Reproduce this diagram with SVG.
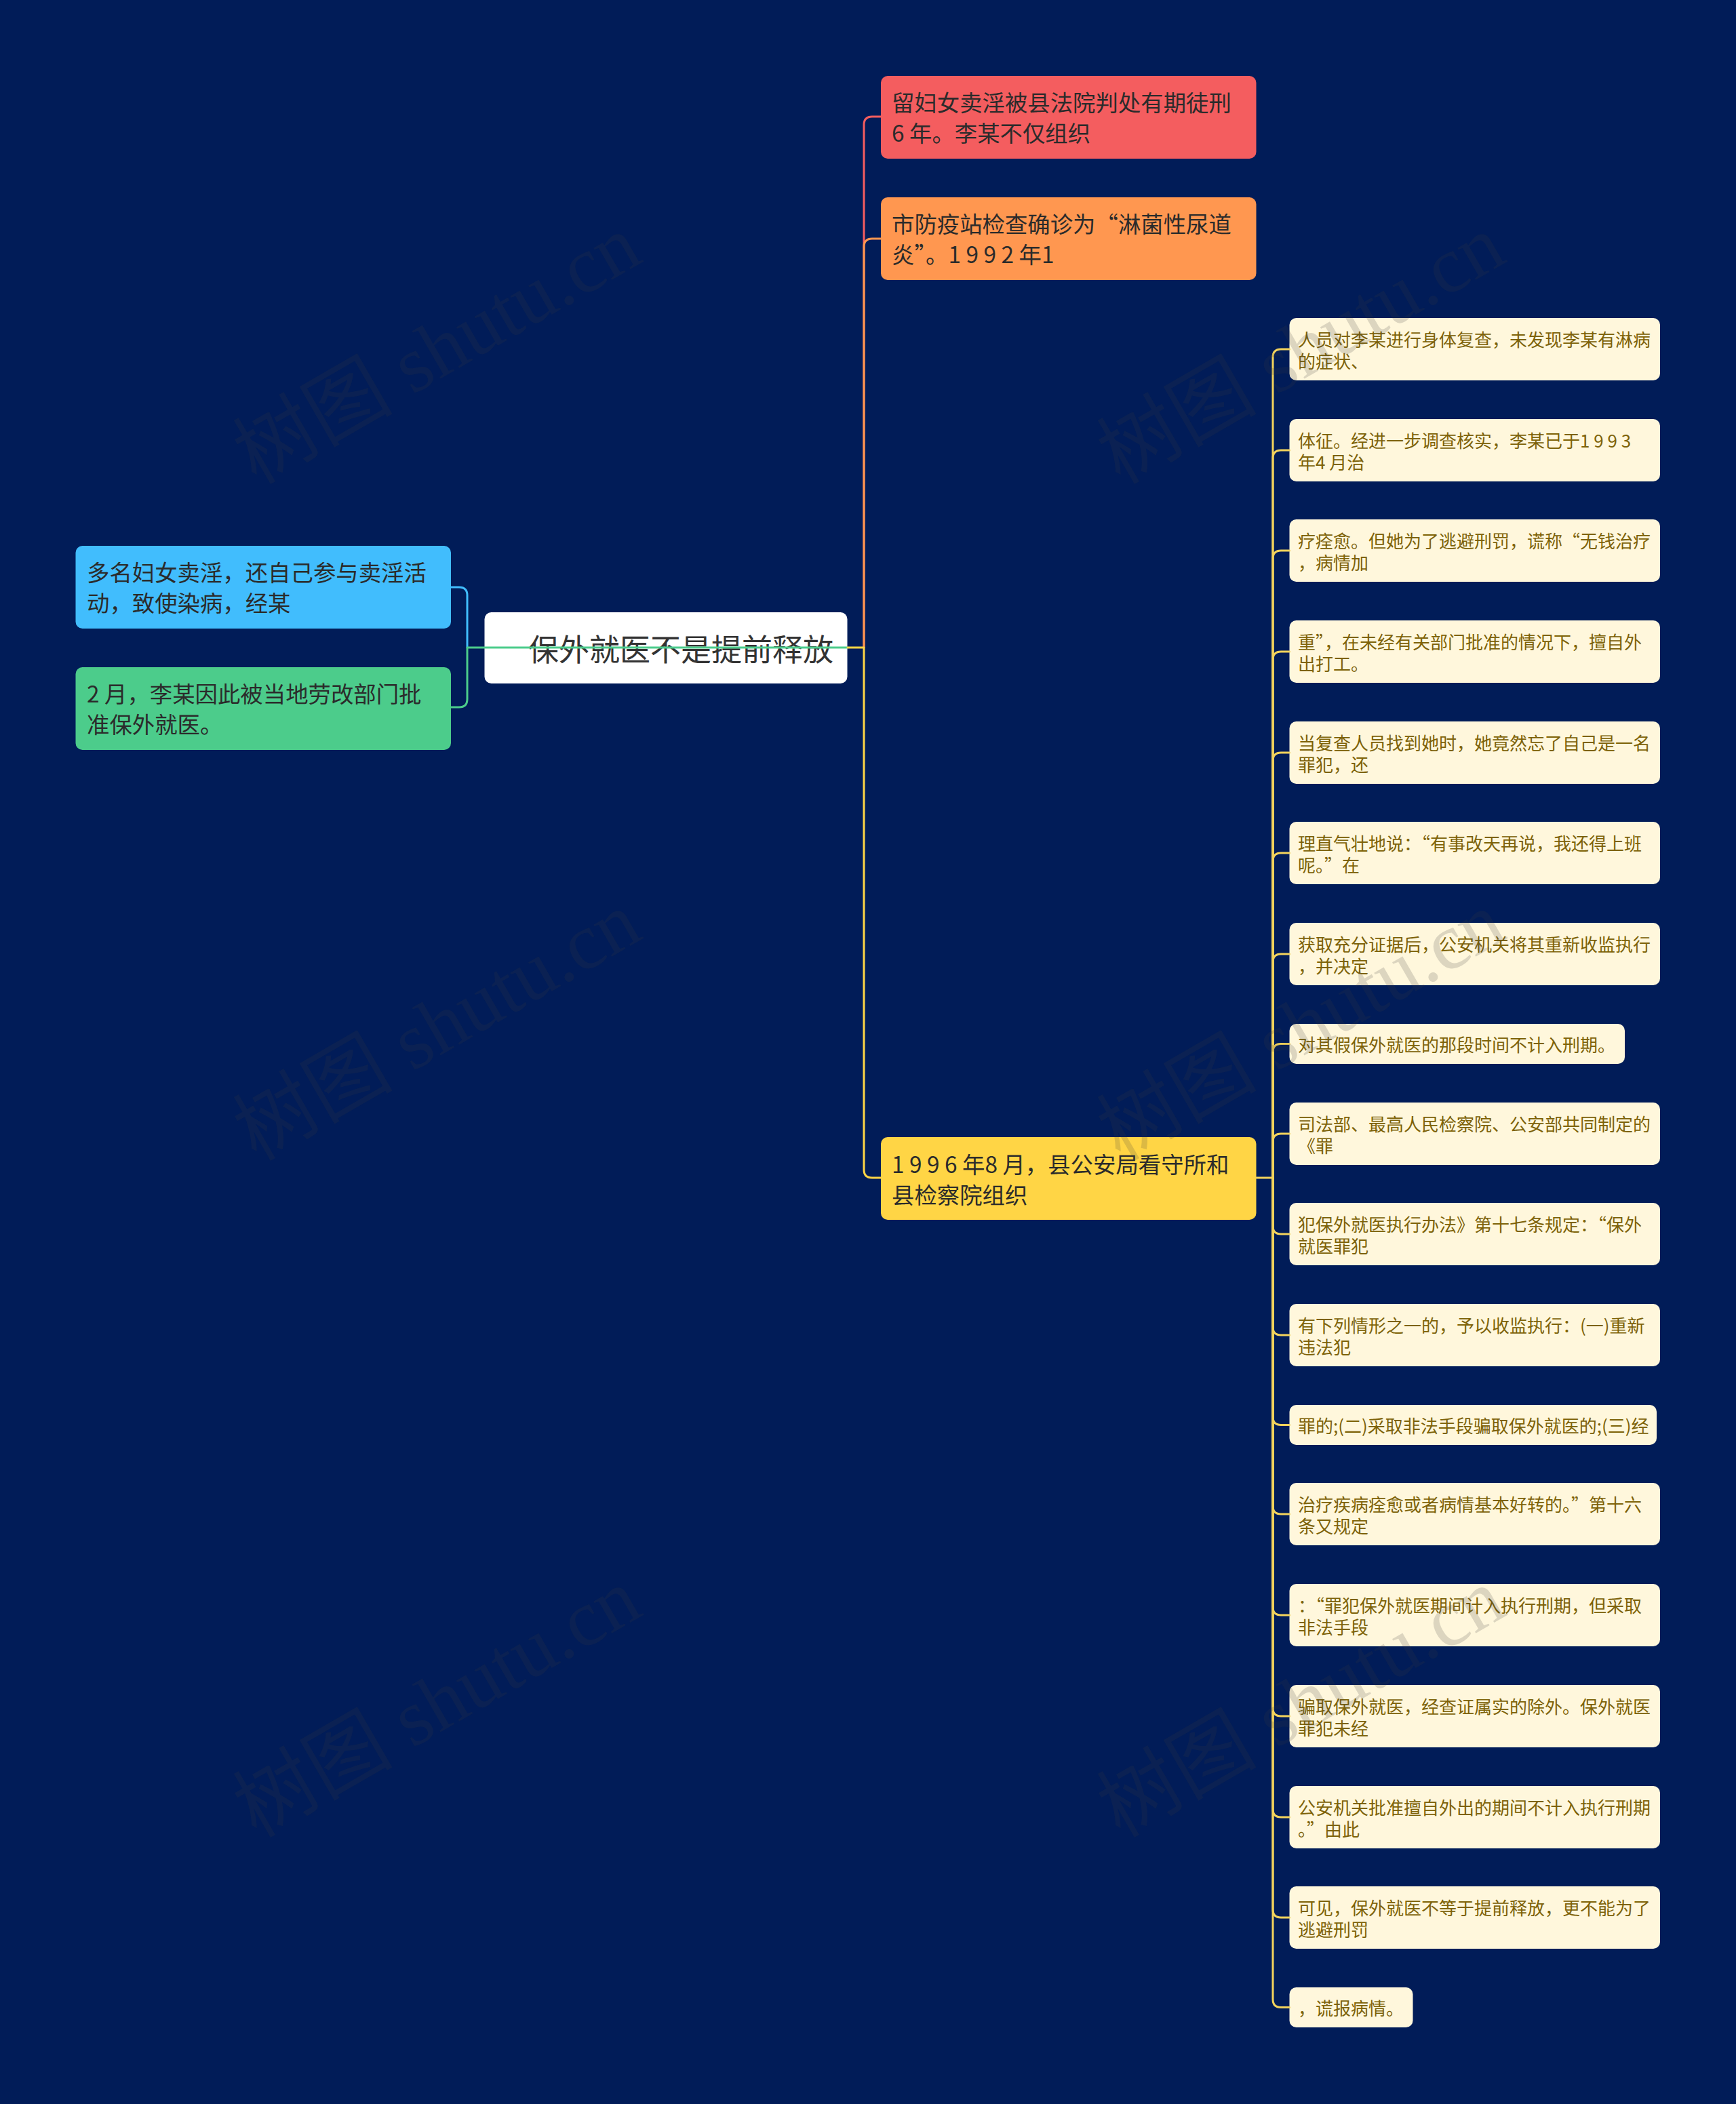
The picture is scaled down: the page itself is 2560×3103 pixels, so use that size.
<svg xmlns="http://www.w3.org/2000/svg" width="2560" height="3103" viewBox="0 0 2560 3103">
<style>
.bg{fill:#011c58}
.wm{font-family:"Liberation Serif","Noto Sans CJK SC",serif;font-size:118px;fill:#3c3c3c;fill-opacity:0.18}
.t{font-family:"Noto Sans CJK SC","Noto Sans",sans-serif}
.q{font-feature-settings:"fwid" 1}
.main{font-size:33.4px;fill:#2b2b2b}
.root{font-size:45px;fill:#333333}
.leaf{font-size:26px;fill:#7d6208}
.leafbox{fill:#fff7dc}
.c{fill:none;stroke-width:3;stroke-linecap:round;stroke-linejoin:round}
</style>
<rect class="bg" x="0" y="0" width="2560" height="3103"/>

<g id="nodes">
<g id="root">
<rect x="714.5" y="903" width="535" height="105" rx="10" fill="#ffffff"/>
<text class="t root" x="1229" y="975" text-anchor="end">保外就医不是提前释放</text>
</g>
<g id="n-left-1">
<rect x="111.5" y="805" width="553.5" height="122" rx="10" fill="#41bdfd"/>
<text class="t main" x="128" y="857">多名妇女卖淫，还自己参与卖淫活</text>
<text class="t main" x="128" y="902">动，致使染病，经某</text>
</g>
<g id="n-left-2">
<rect x="111.5" y="984" width="553.5" height="122" rx="10" fill="#4ccc8b"/>
<text class="t main" x="128" y="1036">2 月，李某因此被当地劳改部门批</text>
<text class="t main" x="128" y="1081">准保外就医。</text>
</g>
<g id="n-red">
<rect x="1299" y="112" width="553.5" height="122" rx="10" fill="#f45d5f"/>
<text class="t main" x="1315" y="164">留妇女卖淫被县法院判处有期徒刑</text>
<text class="t main" x="1315" y="209">6 年。李某不仅组织</text>
</g>
<g id="n-orange">
<rect x="1299" y="291" width="553.5" height="122" rx="10" fill="#ff9750"/>
<text class="t main" x="1315" y="343">市防疫站检查确诊为<tspan class="q">“</tspan>淋菌性尿道</text>
<text class="t main" x="1315" y="388">炎<tspan class="q">”</tspan>。1 9 9 2 年1</text>
</g>
<g id="n-yellow">
<rect x="1299" y="1677" width="553.5" height="122" rx="10" fill="#ffd545"/>
<text class="t main" x="1315" y="1730">1 9 9 6 年8 月，县公安局看守所和</text>
<text class="t main" x="1315" y="1775">县检察院组织</text>
</g>

<g id="c1"><rect class="leafbox" x="1901.5" y="469" width="546.5" height="92" rx="10"/>
<text class="t leaf" x="1914" y="511">人员对李某进行身体复查，未发现李某有淋病</text><text class="t leaf" x="1914" y="543">的症状、</text></g>
<g id="c2"><rect class="leafbox" x="1901.5" y="618" width="546.5" height="92" rx="10"/>
<text class="t leaf" x="1914" y="660">体征。经进一步调查核实，李某已于1 9 9 3</text><text class="t leaf" x="1914" y="692">年4 月治</text></g>
<g id="c3"><rect class="leafbox" x="1901.5" y="766" width="546.5" height="92" rx="10"/>
<text class="t leaf" x="1914" y="808">疗痊愈。但她为了逃避刑罚，谎称<tspan class="q">“</tspan>无钱治疗</text><text class="t leaf" x="1914" y="840">，病情加</text></g>
<g id="c4"><rect class="leafbox" x="1901.5" y="915" width="546.5" height="92" rx="10"/>
<text class="t leaf" x="1914" y="957">重<tspan class="q">”</tspan>，在未经有关部门批准的情况下，擅自外</text><text class="t leaf" x="1914" y="989">出打工。</text></g>
<g id="c5"><rect class="leafbox" x="1901.5" y="1064" width="546.5" height="92" rx="10"/>
<text class="t leaf" x="1914" y="1106">当复查人员找到她时，她竟然忘了自己是一名</text><text class="t leaf" x="1914" y="1138">罪犯，还</text></g>
<g id="c6"><rect class="leafbox" x="1901.5" y="1212" width="546.5" height="92" rx="10"/>
<text class="t leaf" x="1914" y="1254">理直气壮地说：<tspan class="q">“</tspan>有事改天再说，我还得上班</text><text class="t leaf" x="1914" y="1286">呢。<tspan class="q">”</tspan>在</text></g>
<g id="c7"><rect class="leafbox" x="1901.5" y="1361" width="546.5" height="92" rx="10"/>
<text class="t leaf" x="1914" y="1403">获取充分证据后，公安机关将其重新收监执行</text><text class="t leaf" x="1914" y="1435">，并决定</text></g>
<g id="c8"><rect class="leafbox" x="1901.5" y="1510" width="494.5" height="59" rx="10"/>
<text class="t leaf" x="1914" y="1551">对其假保外就医的那段时间不计入刑期。</text></g>
<g id="c9"><rect class="leafbox" x="1901.5" y="1626" width="546.5" height="92" rx="10"/>
<text class="t leaf" x="1914" y="1668">司法部、最高人民检察院、公安部共同制定的</text><text class="t leaf" x="1914" y="1700">《罪</text></g>
<g id="c10"><rect class="leafbox" x="1901.5" y="1774" width="546.5" height="92" rx="10"/>
<text class="t leaf" x="1914" y="1816">犯保外就医执行办法》第十七条规定：<tspan class="q">“</tspan>保外</text><text class="t leaf" x="1914" y="1848">就医罪犯</text></g>
<g id="c11"><rect class="leafbox" x="1901.5" y="1923" width="546.5" height="92" rx="10"/>
<text class="t leaf" x="1914" y="1965">有下列情形之一的，予以收监执行：(一)重新</text><text class="t leaf" x="1914" y="1997">违法犯</text></g>
<g id="c12"><rect class="leafbox" x="1901.5" y="2072" width="541.5" height="59" rx="10"/>
<text class="t leaf" x="1914" y="2113">罪的;(二)采取非法手段骗取保外就医的;(三)经</text></g>
<g id="c13"><rect class="leafbox" x="1901.5" y="2187" width="546.5" height="92" rx="10"/>
<text class="t leaf" x="1914" y="2229">治疗疾病痊愈或者病情基本好转的。<tspan class="q">”</tspan>第十六</text><text class="t leaf" x="1914" y="2261">条又规定</text></g>
<g id="c14"><rect class="leafbox" x="1901.5" y="2336" width="546.5" height="92" rx="10"/>
<text class="t leaf" x="1914" y="2378">：<tspan class="q">“</tspan>罪犯保外就医期间计入执行刑期，但采取</text><text class="t leaf" x="1914" y="2410">非法手段</text></g>
<g id="c15"><rect class="leafbox" x="1901.5" y="2485" width="546.5" height="92" rx="10"/>
<text class="t leaf" x="1914" y="2527">骗取保外就医，经查证属实的除外。保外就医</text><text class="t leaf" x="1914" y="2559">罪犯未经</text></g>
<g id="c16"><rect class="leafbox" x="1901.5" y="2634" width="546.5" height="92" rx="10"/>
<text class="t leaf" x="1914" y="2676">公安机关批准擅自外出的期间不计入执行刑期</text><text class="t leaf" x="1914" y="2708">。<tspan class="q">”</tspan>由此</text></g>
<g id="c17"><rect class="leafbox" x="1901.5" y="2782" width="546.5" height="92" rx="10"/>
<text class="t leaf" x="1914" y="2824">可见，保外就医不等于提前释放，更不能为了</text><text class="t leaf" x="1914" y="2856">逃避刑罚</text></g>
<g id="c18"><rect class="leafbox" x="1901.5" y="2931" width="182" height="59" rx="10"/>
<text class="t leaf" x="1914" y="2972">，谎报病情。</text></g>
</g>

<g id="connectors">
<path class="c" stroke="#41bdfd" d="M665 866 L677 866 Q689 866 689 878 L689 955"/>
<path class="c" stroke="#4ccc8b" d="M665 1043 L677 1043 Q689 1043 689 1031 L689 955 L1250 955"/>
<path class="c" stroke="#f45d5f" d="M1274 955 L1274 184 Q1274 172 1286 172 L1299 172"/>
<path class="c" stroke="#ff9750" d="M1274 955 L1274 364 Q1274 352 1286 352 L1299 352"/>
<path class="c" stroke="#ffd545" d="M1250 955 L1274 955 L1274 1725 Q1274 1737 1286 1737 L1299 1737"/>
<g stroke="#f3d35c">
<path class="c" d="M1852.5 1737 L1877 1737"/>
<path class="c" d="M1877 1737 L1877 527 Q1877 515 1889 515 L1901.5 515"/>
<path class="c" d="M1877 1737 L1877 676 Q1877 664 1889 664 L1901.5 664"/>
<path class="c" d="M1877 1737 L1877 824 Q1877 812 1889 812 L1901.5 812"/>
<path class="c" d="M1877 1737 L1877 973 Q1877 961 1889 961 L1901.5 961"/>
<path class="c" d="M1877 1737 L1877 1122 Q1877 1110 1889 1110 L1901.5 1110"/>
<path class="c" d="M1877 1737 L1877 1270 Q1877 1258 1889 1258 L1901.5 1258"/>
<path class="c" d="M1877 1737 L1877 1419 Q1877 1407 1889 1407 L1901.5 1407"/>
<path class="c" d="M1877 1737 L1877 1551.5 Q1877 1539.5 1889 1539.5 L1901.5 1539.5"/>
<path class="c" d="M1877 1737 L1877 1684 Q1877 1672 1889 1672 L1901.5 1672"/>
<path class="c" d="M1877 1737 L1877 1808 Q1877 1820 1889 1820 L1901.5 1820"/>
<path class="c" d="M1877 1737 L1877 1957 Q1877 1969 1889 1969 L1901.5 1969"/>
<path class="c" d="M1877 1737 L1877 2089.5 Q1877 2101.5 1889 2101.5 L1901.5 2101.5"/>
<path class="c" d="M1877 1737 L1877 2221 Q1877 2233 1889 2233 L1901.5 2233"/>
<path class="c" d="M1877 1737 L1877 2370 Q1877 2382 1889 2382 L1901.5 2382"/>
<path class="c" d="M1877 1737 L1877 2519 Q1877 2531 1889 2531 L1901.5 2531"/>
<path class="c" d="M1877 1737 L1877 2668 Q1877 2680 1889 2680 L1901.5 2680"/>
<path class="c" d="M1877 1737 L1877 2816 Q1877 2828 1889 2828 L1901.5 2828"/>
<path class="c" d="M1877 1737 L1877 2948.5 Q1877 2960.5 1889 2960.5 L1901.5 2960.5"/>
</g>
</g>

<g id="watermarks">
<text class="wm" x="646" y="555" text-anchor="middle" transform="rotate(-30 646 518)">树图 shutu.cn</text>
<text class="wm" x="1920" y="555" text-anchor="middle" transform="rotate(-30 1920 518)">树图 shutu.cn</text>
<text class="wm" x="646" y="1553" text-anchor="middle" transform="rotate(-30 646 1516)">树图 shutu.cn</text>
<text class="wm" x="1920" y="1553" text-anchor="middle" transform="rotate(-30 1920 1516)">树图 shutu.cn</text>
<text class="wm" x="646" y="2551" text-anchor="middle" transform="rotate(-30 646 2514)">树图 shutu.cn</text>
<text class="wm" x="1920" y="2551" text-anchor="middle" transform="rotate(-30 1920 2514)">树图 shutu.cn</text>
</g>
</svg>
